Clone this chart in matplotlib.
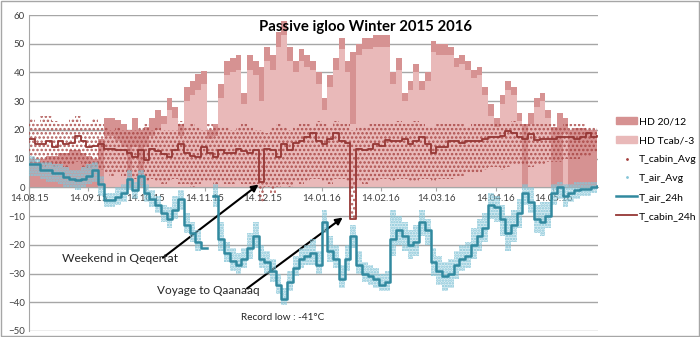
import matplotlib
matplotlib.use('Agg')
import matplotlib.pyplot as plt
import matplotlib.dates as mdates
from matplotlib.patches import Patch, Rectangle
from matplotlib.lines import Line2D
import numpy as np
import pandas as pd

plt.rcParams['font.family'] = ['Lato', 'DejaVu Sans']
plt.rcParams['hatch.linewidth'] = 1.2

# values read every 3 days, starting 14.08.2015
dates = pd.date_range('2015-08-14', periods=100, freq='3D')

t_air_24h = [8, 8, 6, 6, 5, 5, 3.5, 3, 2.5, 3,
             4, 6, 1, -4.5, -4.5, -3.5, -2, 3, -1, 4,
             -2, -4, -6, -9, -11, -8, -4, -13, -16, -19,
             -21, np.nan, -3, -18, -23, -25.5, -27, -25, -21, -17,
             -25, -26, -29, -34, -39, -33, -28, -25, -24, -23,
             -27, -12, -22, -25, -32, -25, -17, -27, -30, -31,
             -32, -34, -33, -18, -15, -17, -20, -19, -12, -15,
             -26, -29, -31, -30, -27, -25, -24, -20, -17, -14,
             -6, -7, -11, -16, -13, -9, -2, -5, -11, -12,
             -10, -2, 0, -3, -2, -1, -0.5, -0.5, 0, 0.5]

# spread of the hourly air readings (T_air_Avg)
air_hi = [11, 10, 9, 9, 8, 8, 7, 6, 6, 7,
          8, 9, 4, -2, -2, 0, 1, 6, 2, 6,
          1, -1, -3, -6, -7, -3, -1, -9, -12, -15,
          -18, np.nan, 1, -12, -19, -21, -23, -21, -16, -12,
          -20, -22, -25, -30, -35, -29, -24, -21, -20, -18,
          -22, -8, -17, -20, -27, -20, -13, -22, -26, -27,
          -28, -30, -29, -8, -10, -12, -15, -13, -8, -11,
          -21, -24, -26, -25, -22, -20, -19, -14, -11, -9,
          -2, -3, -6, -10, -8, -4, 1, 0, -6, -5,
          -5, 1, 2, 1, 1, 2, 2, 2, 2, 2]
air_lo = [4, 4, 3, 2, 2, 1, 0, 0, -1, 0,
          1, 2, -3, -7, -7, -6, -5, -1, -4, 0,
          -5, -7, -9, -12, -14, -11, -8, -16, -19, -22,
          -23, np.nan, -7, -22, -26, -29, -30, -28, -25, -21,
          -28, -30, -33, -37, -41, -36, -31, -28, -27, -27,
          -30, -16, -26, -28, -35, -29, -21, -30, -33, -34,
          -35, -36, -36, -24, -20, -22, -25, -24, -17, -20,
          -31, -34, -36, -35, -32, -29, -28, -25, -22, -19,
          -11, -12, -17, -22, -19, -14, -6, -9, -16, -17,
          -14, -6, -4, -7, -5, -4, -3, -3, -2, -2]

t_cabin_24h = [17, 15, 15, 16, 14, 16, 15, 15.5, 18, 16,
               14, 14.5, 15, 13.5, 13.5, 13, 13, 12, 10.5, 13,
               9.5, 13.5, 12.5, 11.5, 10.5, 13, 15, 12, 11, 10.5,
               14, 12, 10.5, 13, 12, 12, 13.5, 12.5, 12, 13,
               2, 13.5, 13, 10.5, 15, 13, 15.5, 16, 17.5, 19,
               16, 15, 17, 19, 16, 15.5, -11, 13.5, 13, 13.5,
               15, 14.5, 16.5, 16, 16, 17, 15, 16, 17.5, 15,
               12, 14, 14, 16, 16, 15.5, 16, 16, 16, 17,
               17.5, 17.5, 18, 19.5, 19, 17.5, 17, 18.5, 16.5, 17,
               17, 17, 17.5, 17.5, 17.5, 17, 17.5, 19, 17.5, 18]

# spread of the hourly cabin readings (T_cabin_Avg)
cab_hi = [24, 22, 25, 25, 23, 22, 22, 24, 25, 22,
          22, 24, 22, 21, 20, 21, 20, 20, 20, 21,
          22, 20, 21, 20, 20, 20, 23, 21, 22, 21,
          20, 22, 21, 21, 21, 20, 21, 22, 21, 20,
          20, 19, 21, 22, 21, 20, 21, 22, 22, 21,
          23, 22, 21, 23, 22, 22, 20, 21, 21, 22,
          22, 22, 22, 22, 23, 22, 22, 23, 22, 21,
          21, 22, 22, 22, 22, 22, 21, 22, 22, 22,
          22, 22, 22, 22, 23, 22, 22, 22, 22, 22,
          22, 22, 21, 22, 22, 22, 22, 21, 21, 21]
cab_lo = [8, 8, 7, 8, 7, 8, 7, 8, 9, 7,
          6, 7, 6, 5, 4, 5, 4, 3, 3, 3,
          2, 3, 2, 1, 2, 3, 1, 1, 0, 1,
          2, 2, 1, 2, 1, 1, 2, 1, 1, 1,
          -5, 0, -2, 0, 1, 0, 2, 1, 2, 3,
          3, 2, 1, 3, 3, 2, -11, 2, 1, 2,
          2, 3, 3, 2, 3, 3, 2, 2, 3, 3,
          2, 3, 3, 3, 4, 4, 5, 5, 5, 6,
          7, 7, 6, 7, 8, 8, 8, 7, 8, 8,
          9, 9, 9, 10, 10, 10, 11, 11, 12, 12]

hd_20_12 = [10, 9, 10, 11, 11, 12, 12, 13, 13, 12,
            11, 10, 17, 24, 24, 23.5, 22, 20, 24, 20,
            21, 24, 27, 25, 31, 28, 22, 35, 37, 39.5,
            40.5, 20, 22, 36, 44, 45, 46, 33, 46, 44,
            42, 49, 46, 54, 58, 49, 44, 48, 46, 44,
            40, 31, 39, 45, 52, 44, 47, 50, 52, 52,
            53, 53, 53, 40, 45, 33, 37, 43, 37, 40,
            51, 50, 50, 49, 45, 46, 44, 41, 42, 35,
            29, 24, 32, 37, 35, 26, 22, 26, 31, 33,
            27, 21, 26, 24, 20, 20.5, 20.5, 20, 20, 20]
hd_tcab = [0, 0, 0, 0, 0, 0, 0, 0, 0, 0,
           0, 0, 0, 18, 18, 16, 14, 0, 14, 0,
           14, 18, 20, 22, 27, 24, 18, 30, 32, 34,
           36, 17, 18, 31, 39, 40, 41, 29, 41, 39,
           30, 44, 41, 49, 53, 44, 40, 44, 42, 41,
           36, 27, 35, 41, 48, 40, 22, 46, 48, 48,
           49, 49, 49, 36, 41, 30, 34, 40, 34, 37,
           47, 46, 46, 46, 42, 43, 41, 38, 39, 32,
           25, 21, 29, 34, 32, 23, 0, 22, 28, 30,
           24, 0, 0, 19, 0, 0, 0, 0, 0, 0]

tick_dates = pd.to_datetime(['2015-08-14', '2015-09-14', '2015-10-14', '2015-11-14',
                             '2015-12-14', '2016-01-14', '2016-02-14', '2016-03-14',
                             '2016-04-14', '2016-05-14'])

C_HD1 = '#d69292'
C_HD2 = '#e9b9b9'
C_CAB = '#953735'
C_CABDOT = '#a5403e'
C_AIR = '#31899f'
C_AIRDOT = '#86c6d8'

fig = plt.figure(figsize=(7, 3.37), dpi=100)
ax = fig.add_axes([29 / 700, 6 / 337, 569 / 700, 316 / 337])

ax.fill_between(dates, 0, hd_20_12, step='post', color=C_HD1, lw=0, zorder=1)
ax.fill_between(dates, 0, hd_tcab, step='post', color=C_HD2, lw=0, zorder=2)

# hourly readings drawn as dotted bands
ax.fill_between(dates, cab_lo, cab_hi, step='post', facecolor='none',
                edgecolor=C_CABDOT, hatch='....', lw=0, alpha=0.85, zorder=3)
ax.fill_between(dates, air_lo, air_hi, step='post', facecolor=C_AIRDOT, alpha=0.3,
                lw=0, zorder=4)
ax.fill_between(dates, air_lo, air_hi, step='post', facecolor='none',
                edgecolor=C_AIRDOT, hatch='......', lw=0, zorder=4)

ax.step(dates, t_air_24h, where='post', color=C_AIR, lw=1.8, zorder=5)
ax.step(dates, t_cabin_24h, where='post', color=C_CAB, lw=1.3, zorder=6)

ax.set_ylim(-50, 60)
ax.set_yticks(range(-50, 61, 10))
ax.set_xlim(pd.Timestamp('2015-08-14'), pd.Timestamp('2016-06-06 12:00'))
ax.set_xticks(tick_dates)
ax.xaxis.set_major_formatter(mdates.DateFormatter('%d.%m.%y'))
ax.grid(axis='y', color='#a6a6a6', lw=1)
ax.set_axisbelow(True)
ax.tick_params(axis='both', labelsize=7, colors='#404040', length=0, pad=3)
ax.tick_params(axis='x', length=3, color='#a6a6a6', pad=2)
for s in ['top', 'right']:
    ax.spines[s].set_visible(False)
ax.spines['bottom'].set_position(('data', 0))
ax.spines['bottom'].set_color('#a6a6a6')
ax.spines['left'].set_color('#a6a6a6')

fig.text(0.522, 0.92, 'Passive igloo Winter 2015 2016', ha='center', va='center',
         fontsize=10.7, fontweight='bold')

arrow = dict(arrowstyle='-|>', color='black', lw=1.5, mutation_scale=10,
             shrinkA=0, shrinkB=0)
ax.annotate('', xy=(pd.Timestamp('2015-12-12'), 1), xytext=(pd.Timestamp('2015-10-23'), -24.5),
            arrowprops=arrow)
ax.annotate('', xy=(pd.Timestamp('2016-01-25'), -10.5), xytext=(pd.Timestamp('2015-12-06'), -35.2),
            arrowprops=arrow)
ax.text(pd.Timestamp('2015-08-31'), -24.7, 'Weekend in Qeqertat', fontsize=8.7, va='center',
        color='#262626')
ax.text(pd.Timestamp('2015-10-20'), -35.9, 'Voyage to Qaanaaq', fontsize=8.5, va='center',
        color='#262626')
ax.text(pd.Timestamp('2015-12-03'), -45.2, 'Record low : -41°C', fontsize=7.2, va='center',
        color='#262626')

handles = [Patch(color=C_HD1), Patch(color=C_HD2),
           Line2D([], [], ls='none', marker='.', ms=2, color=C_CABDOT),
           Line2D([], [], ls='none', marker='.', ms=2, color=C_AIRDOT),
           Line2D([], [], color=C_AIR, lw=1.8),
           Line2D([], [], color=C_CAB, lw=1.3)]
labels = ['HD 20/12', 'HD Tcab/-3', 'T_cabin_Avg', 'T_air_Avg', 'T_air_24h', 'T_cabin_24h']
fig.legend(handles, labels, loc='center left', bbox_to_anchor=(612 / 700, 1 - 169 / 337),
           frameon=False, fontsize=7.5, handlelength=2.0, handleheight=0.6,
           labelspacing=0.95, handletextpad=0.2, borderaxespad=0)

fig.patches.append(Rectangle((0.001, 0.002), 0.997, 0.995, transform=fig.transFigure,
                             fill=False, edgecolor='#a6a6a6', lw=1))

fig.savefig('out.png', dpi=100)
